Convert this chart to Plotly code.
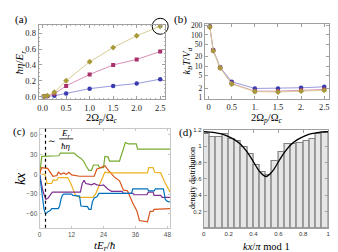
import plotly.graph_objects as go

W, H = 338, 252

# ---------------- data ----------------
ratio = [0.025, 0.1, 0.25, 0.5, 1.0, 1.5, 2.0, 2.5]          # 2Ω_p/Ω_c
eta_blue = [0.0, 0.003, 0.01, 0.04, 0.10, 0.135, 0.165, 0.22]
eta_mag = [0.0, 0.008, 0.035, 0.135, 0.28, 0.40, 0.47, 0.57]
eta_olive = [0.0, 0.012, 0.055, 0.20, 0.44, 0.62, 0.77, 0.89]

temp_blue = [190, 33, 9.3, 3.2, 1.95, 1.95, 2.05, 2.2]
temp_mag = [185, 32, 9.0, 2.8, 1.6, 1.6, 1.7, 1.8]
temp_olive = [180, 31, 8.8, 2.7, 1.55, 1.5, 1.6, 1.7]

green_t = [0, 0.8, 7.2, 7.8, 13, 14, 15.5, 16.5, 17.5, 18.5, 19.5, 20.2, 22, 22.5, 24, 24.5, 25.8, 26.2, 30, 31.5, 32.2, 33.3, 36.3, 36.8, 49]
green_kx = [0, 27, 28, 32, 32, 28, 24, 20, 12, 6, 6, 14, 14, 10, 10, 27, 26, 20, 20, 40, 48, 46, 46, 38, 38]

orange_t = [0, 0.7, 3, 4, 5, 6.5, 7, 8, 9, 10, 11, 12, 14, 15, 20.5, 21.5, 23, 24.5, 26, 28, 30, 31.5, 33, 34, 35, 36.5, 37.5, 40.5, 41.5, 42.6, 43, 49]
orange_kx = [0, 10, 9, 3, -3, -2, 3, 0, 2, 0, 3, -1, -2, -3, -3, 8, 10, 13, 5, -4, -10, -24, -25, -35, -44, -55, -70, -72, -56, -56, -53, -52]

yellow_t = [0, 2, 2.8, 4.5, 5, 6.5, 7, 10.5, 11.5, 12.5, 13.5, 15, 20, 21, 22, 23, 24.5, 26.5, 40.5, 41, 42.6, 43.2, 45.5, 47, 49]
yellow_kx = [0, 0, -14, -14, -9, -9, -5, -5, -12, -22, -32, -35, -35, -30, -20, -10, 3, 2, 2, 10, 10, 3, 2, -12, -27]

purple_t = [0, 1.2, 2.3, 3.2, 4.2, 4.8, 15.3, 16, 16.7, 17.3, 18.5, 19.5, 20.5, 21.5, 23, 24, 25.5, 27, 31, 31.5, 35, 35.5, 40.3, 40.8, 42.6, 43, 45.5, 46, 49]
purple_kx = [0, -25, -38, -36, -30, -27, -27, -14, -9, -14, -15, -16, -14, -16, -17, -16, -22, -26, -26, -29, -29, -31, -31, -27, -27, -32, -32, -35, -35]

blue_t = [0, 0.8, 1.6, 2.2, 3, 4, 4.5, 7, 7.5, 8, 8.5, 9, 12, 12.5, 15, 15.5, 18, 18.5, 19.3, 19.8, 20.5, 21.5, 22.3, 34.5, 35, 40.5, 41, 43, 43.5, 46.5, 47.2, 48, 49]
blue_kx = [0, -30, -52, -60, -57, -55, -52, -52, -48, -38, -32, -30, -30, -32, -33, -48, -49, -53, -53, -42, -36, -34, -29, -29, -22, -22, -25, -25, -22, -22, -38, -41, -42]

relax_time = 2.2

bin_centers = [0.025 + 0.05 * i for i in range(20)]
bin_heights = [1.15, 1.11, 1.12, 1.15, 1.09, 1.07, 0.99, 0.90, 0.77, 0.68,
               0.65, 0.82, 0.93, 1.03, 1.03, 1.04, 1.06, 1.09, 1.15, 1.17]
curve_x = [0, 0.05, 0.1, 0.15, 0.2, 0.25, 0.3, 0.35, 0.4, 0.45, 0.5,
           0.55, 0.6, 0.65, 0.7, 0.75, 0.8, 0.85, 0.9, 0.95, 1.0]
curve_y = [1.18, 1.175, 1.165, 1.15, 1.12, 1.08, 1.02, 0.93, 0.81, 0.69, 0.63,
           0.69, 0.81, 0.93, 1.02, 1.08, 1.12, 1.15, 1.165, 1.175, 1.18]

# ---------------- helpers ----------------
def px(x):
    return x / W

def py(y):
    return 1 - y / H

SERIF = "Liberation Serif"
SANS = "Liberation Sans"

fig = go.Figure()

mm_cols = [("#3b3bb0", "#9a9ade", "circle", 4.5, eta_blue, temp_blue),
           ("#a8306b", "#d98fb5", "square", 4, eta_mag, temp_mag),
           ("#a89a3a", "#d8cd95", "diamond", 4.5, eta_olive, temp_olive)]

for mcol, lcol, sym, ms, ea, ta in mm_cols:
    fig.add_trace(go.Scatter(x=ratio, y=ea, mode="lines+markers", xaxis="x", yaxis="y",
                             line=dict(color=lcol, width=1),
                             marker=dict(color=mcol, size=ms, symbol=sym), showlegend=False))
    fig.add_trace(go.Scatter(x=ratio, y=ta, mode="lines+markers", xaxis="x2", yaxis="y2",
                             line=dict(color=lcol, width=1),
                             marker=dict(color=mcol, size=ms, symbol=sym), showlegend=False))

# circle highlighting the last olive point
fig.add_trace(go.Scatter(x=[ratio[-1]], y=[eta_olive[-1]], mode="markers", xaxis="x", yaxis="y",
                         marker=dict(symbol="circle-open", size=16, color="black", line=dict(width=1)),
                         cliponaxis=False, showlegend=False))

walks = [(green_t, green_kx, "#77AC30"), (orange_t, orange_kx, "#D95319"),
         (yellow_t, yellow_kx, "#EDB120"), (purple_t, purple_kx, "#7E2F8E"),
         (blue_t, blue_kx, "#0072BD")]
for t, k, c in walks:
    fig.add_trace(go.Scatter(x=t, y=k, mode="lines", xaxis="x3", yaxis="y3",
                             line=dict(color=c, width=1.2), showlegend=False))

fig.add_trace(go.Bar(x=bin_centers, y=bin_heights, width=0.05, xaxis="x4", yaxis="y4",
                     marker=dict(color="#e6e6e6", line=dict(color="#808080", width=1.2)),
                     showlegend=False))
fig.add_trace(go.Scatter(x=curve_x, y=curve_y, mode="lines", xaxis="x4", yaxis="y4",
                         line=dict(color="black", width=1.3, shape="spline"), showlegend=False))

frame = dict(showline=True, linecolor="#a0a0a0", linewidth=1, mirror="ticks",
             ticks="inside", ticklen=3, tickcolor="#a0a0a0", showgrid=False, zeroline=False)

tf_serif = dict(family=SERIF, size=8.5, color="#222")
tf_sans = dict(family=SANS, size=6.5, color="#555")
tf_sans_d = dict(family=SANS, size=6, color="#333")

fig.update_layout(
    width=W, height=H, margin=dict(l=0, r=0, t=0, b=0),
    plot_bgcolor="white", paper_bgcolor="white", bargap=0,
    xaxis=dict(domain=[px(29), px(157)], range=[-0.084, 2.605], anchor="y",
               tickvals=[0, 0.5, 1, 1.5, 2, 2.5], ticktext=["0.0", "0.5", "1.0", "1.5", "2.0", "2.5"],
               tickfont=tf_serif, minor=dict(ticks="inside", ticklen=1.5, tickcolor="#b0b0b0", dtick=0.1), **frame),
    yaxis=dict(domain=[py(91), py(14)], range=[-0.037, 0.911], anchor="x",
               tickvals=[0, 0.2, 0.4, 0.6, 0.8], ticktext=["0.0", "0.2", "0.4", "0.6", "0.8"],
               tickfont=tf_serif, minor=dict(ticks="inside", ticklen=1.5, tickcolor="#b0b0b0", dtick=0.05), **frame),
    xaxis2=dict(domain=[px(197), px(323)], range=[-0.085, 2.607], anchor="y2",
                tickvals=[0, 0.5, 1, 1.5, 2, 2.5], ticktext=["0", "0.5", "1.", "1.5", "2.", "2.5"],
                tickfont=tf_serif, **frame),
    yaxis2=dict(domain=[py(90), py(13)], type="log", range=[-0.031, 2.363], anchor="x2",
                tickvals=[1, 2, 5, 10, 20, 50, 100, 200],
                ticktext=["1", "2", "5", "10", "20", "50", "100", "200"],
                tickfont=dict(family=SERIF, size=7.5, color="#222"), **frame),
    xaxis3=dict(domain=[px(30), px(162)], range=[0, 49], anchor="y3",
                tickvals=[0, 12, 24, 36, 48], tickfont=tf_sans,
                showline=True, linecolor="#c8c8c8", mirror="ticks", ticks="inside", ticklen=2,
                tickcolor="#c8c8c8", showgrid=False, zeroline=False),
    yaxis3=dict(domain=[py(223), py(121)], range=[-81, 69], anchor="x3",
                tickvals=[-60, -30, 0, 30, 60], tickfont=tf_sans,
                showline=True, linecolor="#c8c8c8", mirror="ticks", ticks="inside", ticklen=2,
                tickcolor="#c8c8c8", showgrid=False, zeroline=False),
    xaxis4=dict(domain=[px(196), px(322)], range=[0, 1], anchor="y4",
                tickvals=[0, 0.2, 0.4, 0.6, 0.8, 1], ticktext=["0", "0.2", "0.4", "0.6", "0.8", "1"],
                tickfont=tf_sans_d, **frame),
    yaxis4=dict(domain=[py(223), py(122.5)], range=[0, 1.2], anchor="x4",
                tickvals=[0.2, 0.4, 0.6, 0.8, 1, 1.2], ticktext=["0.2", "0.4", "0.6", "0.8", "1", "1.2"],
                tickfont=tf_sans_d, **frame),
)

# dotted relaxation line
fig.add_shape(type="line", xref="x3", yref="y3 domain", x0=relax_time, x1=relax_time, y0=0, y1=1,
              line=dict(color="black", width=1.2, dash="dot"))

# fraction bar in (c)
fig.add_shape(type="line", xref="paper", yref="paper", x0=px(50), x1=px(64), y0=py(131.5), y1=py(131.5),
              line=dict(color="black", width=0.8))

annots = []
def ann(x, y, text, size, family=SERIF, angle=0, color="black"):
    annots.append(dict(x=px(x), y=py(y), xref="paper", yref="paper", text=text, showarrow=False,
                       textangle=angle, xanchor="center", yanchor="middle",
                       font=dict(family=family, size=size, color=color)))

ann(12, 9, "(a)", 11)
ann(173, 9, "(b)", 11)
ann(10, 124, "(c)", 11)
ann(178, 125, "(d)", 11)

ann(93, 110.5, "2Ω<sub><i>p</i></sub>/Ω<sub><i>c</i></sub>", 10.5)
ann(10, 52, "<i>ħη</i>/<i>E<sub>r</sub></i>", 11, angle=-90)
ann(260, 110.5, "2Ω<sub><i>p</i></sub>/Ω<sub><i>c</i></sub>", 10.5)
ann(180, 51, "<i>k<sub>B</sub>T</i>/<i>V<sub>d</sub></i>", 10, angle=-90)

ann(10, 172, "<i>kx</i>", 14, angle=-90)
ann(96, 242, "<i>tE<sub>r</sub></i>/<i>ħ</i>", 11)
ann(43, 134, "∼", 9)
ann(57, 126, "<i>E<sub>r</sub></i>", 9)
ann(57, 138.5, "<i>ħη</i>", 9)

ann(184, 172, "density distribution", 8, angle=-90)
ann(260, 242, "<i>kx</i>/<i>π</i> mod 1", 10.5)

fig.update_layout(annotations=annots)

fig.write_html("out.html")
